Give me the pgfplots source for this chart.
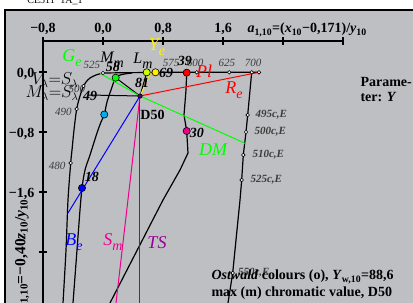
\documentclass[border=0pt]{standalone}
\usepackage{pgfplots}
\pgfplotsset{compat=1.18}
\usepackage{fontspec}
\setmainfont{Liberation Serif}
\definecolor{bg}{RGB}{190,191,195}
\definecolor{purp}{RGB}{150,0,150}
\definecolor{lmy}{RGB}{205,255,0}
\definecolor{yey}{RGB}{255,240,0}
\definecolor{lbl}{RGB}{60,60,60}
\newcommand{\sub}[1]{\raisebox{-0.28em}{\fontsize{14}{14}\selectfont #1}}
\begin{document}
\begin{tikzpicture}[x=1pt,y=1pt]
\useasboundingbox (0,0) rectangle (413,303);
\clip (0,0) rectangle (413,303);
\fill[bg] (5,-10) rectangle (430,293);
\draw[line width=1.6pt] (5,-10) -- (5,293) -- (430,293);
\node[font=\fontsize{10}{10}\selectfont, anchor=base] at (55,299) {CE511−1A\_1};
\begin{axis}[at={(0,0)}, anchor=south west, scale only axis, width=413pt, height=303pt,
  xmin=-1.37333, xmax=4.13333, ymin=-3.08, ymax=0.96, axis lines=none, clip=false]
% axes
\draw[line width=1.2pt] (axis cs:-0.8,0.4133) -- (axis cs:3.2,0.4133);
\draw[line width=1.2pt] (axis cs:-0.8,0.4133) -- (axis cs:-0.8,-3.2);
\pgfplotsinvokeforeach{-0.8,0,0.8,1.6,2.4,3.2}{\draw[line width=1.2pt] (axis cs:#1,0.46) -- (axis cs:#1,0.36);}
\pgfplotsinvokeforeach{0,-0.8,-1.6,-2.4}{\draw[line width=1.2pt] (axis cs:-0.85,#1) -- (axis cs:-0.75,#1);}
% spectral locus
\addplot[black, line width=1.2pt, smooth, tension=0.5] coordinates {(-0.5333,-3.08) (-0.4933,-2.3733) (-0.4667,-1.7067) (-0.4307,-1.2133) (-0.4133,-1.04) (-0.3867,-0.7733) (-0.3507,-0.4933) (-0.3067,-0.32) (-0.26,-0.1867) (-0.2267,-0.1333) (-0.1733,-0.08) (-0.0933,-0.04) (0,-0.0133)};
\addplot[black, line width=1.2pt] coordinates {(0,-0.0133) (0.36,-0.009) (0.8533,-0.004) (1.2493,-0.004) (1.684,-0.004) (1.9827,-0.004) (2.08,-0.004)};
\addplot[black, line width=1.2pt] coordinates {(1.9827,-0.004) (1.9293,-0.5733) (1.9067,-0.8) (1.8707,-1.1067) (1.8493,-1.44) (1.8267,-1.7067) (1.7293,-2.68) (1.6667,-3.08)};
% Ostwald loop
\addplot[black, line width=1.2pt, smooth, tension=0.5] coordinates {(-0.4,-3.08) (-0.3467,-2.3733) (-0.3067,-1.84) (-0.28,-1.5467) (-0.24,-1.3067) (-0.1733,-1.1067) (-0.08,-0.8133) (-0.0267,-0.6667) (0.0173,-0.5667) (0.0533,-0.4) (0.1067,-0.24) (0.1693,-0.076) (0.2533,-0.0333) (0.3867,-0.0133)};
\addplot[black, line width=1.2pt] coordinates {(1.116,-0.009) (1.1067,-0.24) (1.08,-0.5733) (1.116,-0.7867) (1.1333,-1.08) (1.0267,-1.3067) (0.8,-1.7067) (0.0933,-3.08)};
% black lines from D50
\addplot[black, line width=1pt] coordinates {(0.4933,-0.32) (0.1693,-0.076)};
\addplot[black, line width=1pt] coordinates {(0.4933,-0.32) (0.5827,-0.004)};
\addplot[black, line width=1pt] coordinates {(0.4933,-0.32) (-0.2,-0.3067)};
% coloured lines
\addplot[green, line width=1pt] coordinates {(-0.04,-0.0173) (0.4933,-0.32) (1.8933,-0.9507)};
\addplot[yellow, line width=1pt] coordinates {(0.4933,-0.32) (0.64,0)};
\addplot[red, line width=1pt] coordinates {(0.4933,-0.32) (2.08,-0.004)};
\addplot[blue, line width=1pt] coordinates {(0.4933,-0.32) (-0.4667,-1.88)};
\addplot[magenta, line width=1pt] coordinates {(0.4933,-0.32) (0.1733,-3.08)};
\addplot[purp, line width=1pt] coordinates {(0.4933,-0.32) (0.4933,-3.08)};
% white circles
\addplot[only marks, mark=*, mark size=1.8pt, mark options={fill=white, draw=black, line width=0.6pt}] coordinates {(0,-0.0133) (-0.26,-0.1867) (-0.3507,-0.4933) (-0.4307,-1.2133) (1.2493,-0.004) (1.684,-0.004) (1.9827,-0.004) (2.08,-0.004) (1.9293,-0.5733) (1.9067,-0.8) (1.8707,-1.1067) (1.8493,-1.44) (1.7293,-2.68)};
% coloured dots
\addplot[only marks, mark=*, mark size=3.6pt, mark options={fill=green, draw=black, line width=0.6pt}] coordinates {(0.1693,-0.076)};
\addplot[only marks, mark=*, mark size=3.6pt, mark options={fill=lmy, draw=black, line width=0.6pt}] coordinates {(0.5827,-0.004)};
\addplot[only marks, mark=*, mark size=3.6pt, mark options={fill=yey, draw=black, line width=0.6pt}] coordinates {(0.7,-0.004)};
\addplot[only marks, mark=*, mark size=3.6pt, mark options={fill=red, draw=black, line width=0.6pt}] coordinates {(1.116,-0.009)};
\addplot[only marks, mark=*, mark size=3.6pt, mark options={fill=magenta, draw=black, line width=0.6pt}] coordinates {(1.116,-0.7867)};
\addplot[only marks, mark=*, mark size=3.6pt, mark options={fill=blue, draw=black, line width=0.6pt}] coordinates {(-0.28,-1.5467)};
\addplot[only marks, mark=*, mark size=3.6pt, mark options={fill=cyan, draw=black, line width=0.6pt}] coordinates {(0.0173,-0.5667)};
\addplot[only marks, mark=*, mark size=2.2pt, mark options={fill=purp!60!black, draw=black, line width=0.6pt}] coordinates {(0.4933,-0.32)};
% small wavelength labels
\begin{scope}[every node/.style={font=\fontsize{11}{11}\selectfont\itshape, text=lbl}]
\node at (axis cs:-0.1467,0.0933) {525};
\node at (axis cs:0.9067,0.12) {575};
\node at (axis cs:1.2267,0.12) {600};
\node at (axis cs:1.6533,0.12) {625};
\node at (axis cs:2.0,0.12) {700};
\node at (axis cs:-0.3467,-0.2267) {500};
\node at (axis cs:-0.5267,-0.5333) {490};
\node at (axis cs:-0.6133,-1.2533) {480};
\node[anchor=west] at (axis cs:1.9867,-0.5733) {\bfseries 495c,E};
\node[anchor=west] at (axis cs:1.9733,-0.8) {\bfseries 500c,E};
\node[anchor=west] at (axis cs:1.9467,-1.1067) {\bfseries 510c,E};
\node[anchor=west] at (axis cs:1.92,-1.44) {\bfseries 525c,E};
\node[anchor=west] at (axis cs:1.7533,-2.68) {\bfseries 550c,E};
\end{scope}
% tick labels
\begin{scope}[every node/.style={font=\fontsize{14}{14}\selectfont\bfseries}]
\node[anchor=base] at (axis cs:-0.8,0.52) {−0,8};
\node[anchor=base] at (axis cs:0,0.52) {0,0};
\node[anchor=base] at (axis cs:0.8,0.52) {0,8};
\node[anchor=base] at (axis cs:1.6,0.52) {1,6};
\node[anchor=base west] at (axis cs:1.88,0.52) {\textit{a}\textsubscript{1,10}=(\textit{x}\textsubscript{10}−0,171)/\textit{y}\textsubscript{10}};
\node[anchor=base east] at (axis cs:-0.8667,-0.0667) {0,0};
\node[anchor=base east] at (axis cs:-0.8667,-0.8667) {−0,8};
\node[anchor=base east] at (axis cs:-0.8667,-1.6667) {−1,6};
\node[anchor=east, rotate=90, font=\fontsize{15.5}{15.5}\selectfont\bfseries] at (axis cs:-1.0800,-1.65) {\textit{b}\textsubscript{1,10}=−0,40\textit{z}\textsubscript{10}/\textit{y}\textsubscript{10}};
\node[anchor=base west] at (axis cs:3.3867,-0.1867) {Parame-};
\node[anchor=base west] at (axis cs:3.3867,-0.4) {ter: \textit{Y}};
\node[anchor=center] at (axis cs:0.66,-0.5733) {D50};
\end{scope}
% Y-value labels
\begin{scope}[every node/.style={font=\fontsize{14}{14}\selectfont\bfseries\itshape}]
\node at (axis cs:0.1333,0.0667) {58};
\node at (axis cs:1.0933,0.1467) {39};
\node at (axis cs:0.84,-0.0133) {69};
\node at (axis cs:0.52,-0.1467) {81};
\node at (axis cs:-0.1733,-0.32) {49};
\node at (axis cs:1.2533,-0.8133) {30};
\node at (axis cs:-0.1467,-1.4) {18};
\end{scope}
% big italic labels
\begin{scope}[every node/.style={font=\fontsize{16}{16}\selectfont\itshape}]
\node at (axis cs:0.12,0.16) {M\sub{m}};
\node at (axis cs:0.5333,0.1467) {L\sub{m}};
\node at (axis cs:-0.64,-0.1067) {$V_\lambda{=}S_\lambda$};
\node at (axis cs:-0.68,-0.28) {$M_\lambda{=}S_\lambda$};
\end{scope}
\begin{scope}[every node/.style={font=\fontsize{18}{18}\selectfont\itshape}]
\node[text=green] at (axis cs:-0.4133,0.1867) {G\sub{e}};
\node[text=yellow] at (axis cs:0.72,0.3333) {Y\sub{e}};
\node[text=red] at (axis cs:1.3467,0.0133) {Pl};
\node[text=red] at (axis cs:1.7467,-0.24) {R\sub{e}};
\node[text=green] at (axis cs:1.4667,-1.04) {DM};
\node[text=blue] at (axis cs:-0.3867,-2.2667) {B\sub{e}};
\node[text=magenta] at (axis cs:0.1333,-2.2667) {S\sub{m}};
\node[text=purp] at (axis cs:0.72,-2.28) {TS};
\end{scope}
% bottom text
\begin{scope}[every node/.style={font=\fontsize{14}{14}\selectfont\bfseries, anchor=base west}]
\node at (axis cs:1.4,-2.7733) {\textit{Ostwald} colours (o), \textit{Y}\textsubscript{w,10}=88,6};
\node at (axis cs:1.4,-3.0) {max (m) chromatic value, D50};
\node at (axis cs:1.4,-3.2267) {chromaticity (\textit{a}\textsubscript{1,10}, \textit{b}\textsubscript{1,10})};
\end{scope}
\end{axis}
\end{tikzpicture}
\end{document}
